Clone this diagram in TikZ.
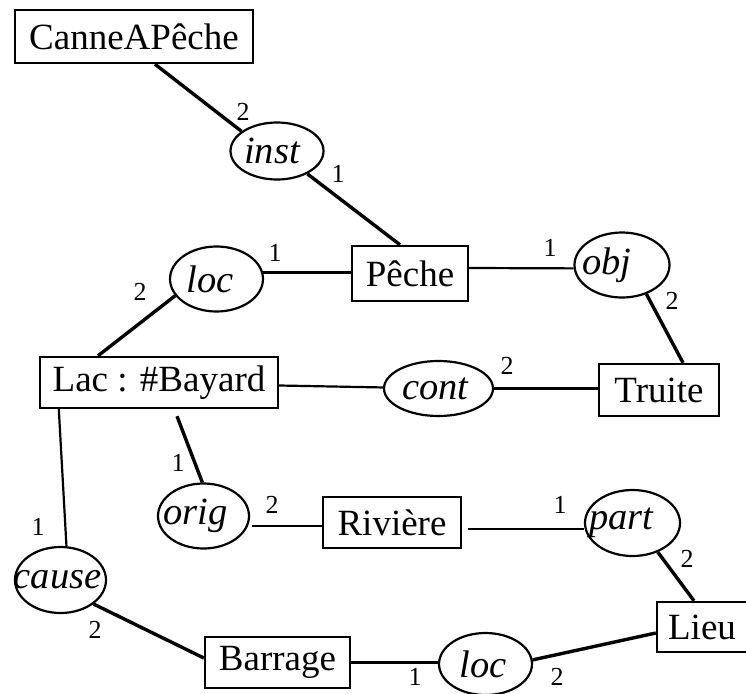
\documentclass[tikz,border=0pt]{standalone}
\usepackage{fontspec}
\setmainfont{Liberation Serif}
\usetikzlibrary{shapes.geometric}

\tikzset{
  concept/.style={draw, rectangle, line width=2.4pt, inner sep=0pt,
                  font=\fontsize{37}{40}\selectfont},
  relation/.style={draw, ellipse, line width=2.2pt, inner sep=0pt},
  reltext/.style={font=\fontsize{38.5}{40}\selectfont\itshape},
  arity/.style={font=\fontsize{26}{28}\selectfont, inner sep=0pt},
  thinlink/.style={line width=2.2pt},
  thicklink/.style={line width=3.4pt},
}

\begin{document}
\begin{tikzpicture}[x=1pt, y=-1pt]
  \useasboundingbox (0,0) rectangle (746,693);

  % concept boxes
  \node[concept, minimum width=238pt, minimum height=53pt] (canne)   at (134,36.5)  {CanneAPêche};
  \node[concept, minimum width=116pt, minimum height=55pt] (peche)   at (410,273.5) {Pêche};
  \node[concept, minimum width=238pt, minimum height=51pt] (lac)     at (159,382.5) {Lac : \#Bayard};
  \node[concept, minimum width=120pt, minimum height=52pt] (truite)  at (659,390)   {Truite};
  \node[concept, minimum width=138pt, minimum height=51pt] (riviere) at (392,522.5) {Rivière};
  \node[concept, minimum width=90pt,  minimum height=50pt] (lieu)    at (702,627)   {Lieu};
  \node[concept, minimum width=145pt, minimum height=51pt] (barrage) at (277.5,662.5) {Barrage};

  % relation ellipses
  \node[relation, minimum width=93pt,  minimum height=57pt,
        label={[reltext, xshift=-5pt]center:inst}]  (inst)  at (277,151)   {};
  \node[relation, minimum width=93pt,  minimum height=65pt,
        label={[reltext, xshift=-6pt]center:loc}]   (loca)  at (216.5,279) {};
  \node[relation, minimum width=95pt,  minimum height=65pt,
        label={[reltext, xshift=-15pt]center:obj}]  (obj)   at (622,265)   {};
  \node[relation, minimum width=109pt, minimum height=55pt,
        label={[reltext, xshift=-3pt]center:cont}]  (cont)  at (438.5,388.5) {};
  \node[relation, minimum width=91pt,  minimum height=65pt,
        label={[reltext, xshift=-8pt]center:orig}]  (orig)  at (203.5,516) {};
  \node[relation, minimum width=95pt,  minimum height=66pt,
        label={[reltext, xshift=-11pt]center:part}] (part)  at (632.5,523) {};
  \node[relation, minimum width=91pt,  minimum height=66pt,
        label={[reltext, xshift=-3pt]center:cause}] (cause) at (60.5,580)  {};
  \node[relation, minimum width=93pt,  minimum height=62pt,
        label={[reltext, xshift=-2pt]center:loc}]   (locb)  at (485.5,664) {};

  % connectors
  \draw[thicklink] ([xshift=21pt]canne.south) -- (inst.151);
  \draw[thicklink] (inst.-37) -- ([xshift=-10pt]peche.north);
  \draw[thinlink]  (loca.8) -- (loca.8 -| peche.west);
  \draw[thicklink] (loca.202) -- ([xshift=-61pt]lac.north);
  \draw[thinlink]  ([yshift=5.5pt]peche.east) -- (obj.184);
  \draw[thicklink] (obj.-50) -- ([xshift=24pt]truite.north);
  \draw[thinlink]  ([yshift=-3pt]lac.east) -- (cont);
  \draw[thinlink]  (cont.east) -- (cont.east -| truite.west);
  \draw[thinlink]  ([xshift=20pt]lac.south west) -- (cause.80);
  \draw[thicklink] ([xshift=18pt,yshift=-7pt]lac.south) -- (orig.92);
  \draw[thinlink]  ([xshift=2pt,yshift=-10pt]orig.east) -- ([yshift=-10pt]orig.east -| riviere.west);
  \draw[thinlink]  ([xshift=6pt,yshift=-6.5pt]riviere.east) -- ([yshift=-6.5pt]riviere.east -| part.west);
  \draw[thicklink] (part.-49) -- ([xshift=-8pt]lieu.north);
  \draw[thinlink]  (barrage.east) -- (barrage.east -| locb.west);
  \draw[thicklink] (locb.5) -- ([yshift=-6pt]lieu.west);
  \draw[thicklink] (cause.-36) -- ([yshift=4.5pt]barrage.west);

  % arity labels
  \node[arity] (a1)  at (243,112) {2};
  \node[arity] (a2)  at (338,174) {1};
  \node[arity] (a3)  at (275,253) {1};
  \node[arity] (a4)  at (140,292) {2};
  \node[arity] (a5)  at (550,248) {1};
  \node[arity] (a6)  at (672,301) {2};
  \node[arity] (a7)  at (507,366) {2};
  \node[arity] (a8)  at (178,463) {1};
  \node[arity] (a9)  at (38,527)  {1};
  \node[arity] (a10) at (272,505) {2};
  \node[arity] (a11) at (560,505) {1};
  \node[arity] (a12) at (687,559) {2};
  \node[arity] (a13) at (95,630)  {2};
  \node[arity] (a14) at (415,677) {1};
  \node[arity] (a15) at (557,677) {2};
\end{tikzpicture}
\end{document}
